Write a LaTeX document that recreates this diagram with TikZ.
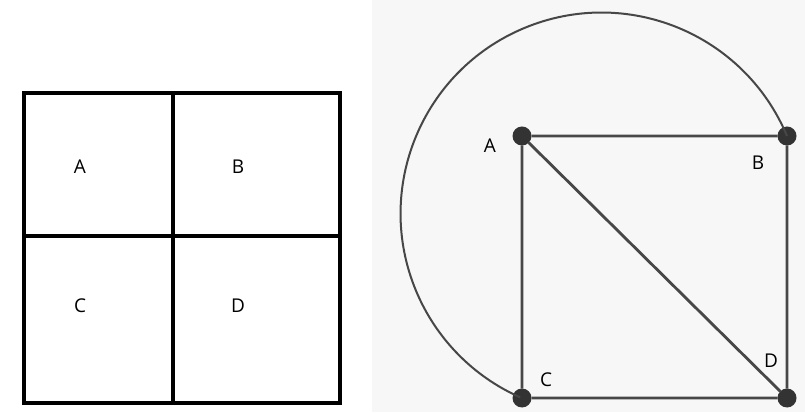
\documentclass[tikz,border=0pt]{standalone}
\usepackage{fontspec}
\setmainfont{Open Sans}

\begin{document}
\begin{tikzpicture}[x=1pt,y=1pt,
  lbl/.style={font=\fontsize{19}{22}\selectfont,inner sep=0pt},
  vertex/.style={circle,fill=black!80,inner sep=0pt,minimum size=19pt,outer sep=0pt},
  edge/.style={draw=black!72,line width=2.8pt},
  grid/.style={draw,line width=4pt}]
\useasboundingbox (0,0) rectangle (805,412);
\fill[black!3] (372,0) rectangle (805,412);
% left: the board
\draw[grid] (24,9) rectangle (340,319);
\draw[grid] (173,9) -- (173,319) (24,176) -- (340,176);
\foreach \t/\x/\y in {A/80/245,B/238/245,C/80/106,D/238/106}
\node at(\x,\y)[lbl](g\t){\t};
% right: the graph
\foreach \t/\x/\y in {A/522/276,B/787/276,C/522/14,D/787/14}
\node at(\x,\y)[vertex](v\t){};
\draw[edge] (vA)--(vB) (vA)--(vC) (vA)--(vD) (vB)--(vD) (vC)--(vD);
\draw[edge,line width=2pt] (vB.center) arc[start angle=22.7,end angle=246.1,radius=201pt];
\foreach \t/\x/\y in {A/490/266,B/758/249,C/546/32,D/771/51}
\node at(\x,\y)[lbl](l\t){\t};
\end{tikzpicture}
\end{document}
